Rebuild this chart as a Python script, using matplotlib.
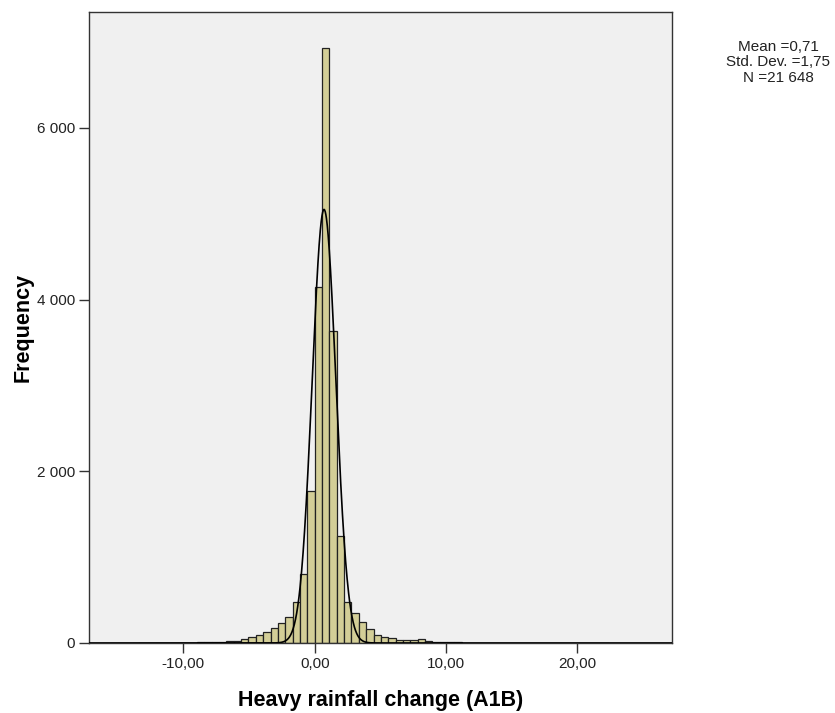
import numpy as np
import matplotlib
matplotlib.use("Agg")
import matplotlib.pyplot as plt
from matplotlib.ticker import FuncFormatter

plt.rcParams['font.family'] = ['Liberation Sans', 'DejaVu Sans']

# histogram: bins of equal width starting at bin_start
bin_start = -13.44
bin_width = 0.56
counts = [1, 1, 2, 2, 3, 3, 4, 5, 6, 8, 10, 13, 18,
          27, 47, 70, 97, 124, 171, 235, 305, 478, 800, 1774,
          4144, 6930, 3635, 1247, 481, 353, 248, 163, 93,
          73, 54, 35, 31, 31, 42, 20, 12, 9, 7, 6, 5, 4, 4, 3, 3,
          2, 2, 2, 2, 1, 1, 1, 1, 1, 1, 1, 1, 1, 1, 1]

# normal curve overlay (as drawn)
curve_mean = 0.71
curve_sd = 0.9
curve_peak = 5050

stats_lines = ['Mean =0,71', 'Std. Dev. =1,75', 'N =21 648']
x_ticks = [-10, 0, 10, 20]
y_ticks = [0, 2000, 4000, 6000]
x_lim = (-17.18, 27.2)
y_lim = (0, 7350)

fig = plt.figure(figsize=(8.35, 7.13), dpi=100, facecolor='white')
ax = fig.add_axes([0.1066, 0.0982, 0.6982, 0.885])
ax.set_facecolor('#F0F0F0')

lefts = bin_start + bin_width * np.arange(len(counts))
ax.bar(lefts, counts, width=bin_width, align='edge', color='#D3CE97',
       edgecolor='#222222', linewidth=0.9, zorder=2)

xs = np.linspace(x_lim[0], x_lim[1], 2000)
ys = curve_peak * np.exp(-0.5 * ((xs - curve_mean) / curve_sd) ** 2)
ax.plot(xs, ys, color='black', linewidth=1.2, zorder=3)

ax.set_xlim(*x_lim)
ax.set_ylim(*y_lim)
ax.set_xticks(x_ticks)
ax.set_yticks(y_ticks)
ax.xaxis.set_major_formatter(FuncFormatter(lambda v, p: f"{v:.2f}".replace('.', ',')))
ax.yaxis.set_major_formatter(FuncFormatter(lambda v, p: f"{int(v):,}".replace(',', ' ')))
ax.tick_params(direction='out', length=7, width=1, color='#333333',
               labelsize=11, labelcolor='#222222', pad=3)

for s in ['top', 'right', 'left', 'bottom']:
    ax.spines[s].set_color('#333333')
    ax.spines[s].set_linewidth(1)

ax.set_xlabel('Heavy rainfall change (A1B)', fontsize=15.5, fontweight='bold', labelpad=14)
ax.set_ylabel('Frequency', fontsize=15.5, fontweight='bold', labelpad=2)

fig.text(0.9317, 0.944, '\n'.join(stats_lines), ha='center', va='top',
         fontsize=11, linespacing=1.12, color='#222222')

plt.savefig('out.png', dpi=100, facecolor=fig.get_facecolor())
